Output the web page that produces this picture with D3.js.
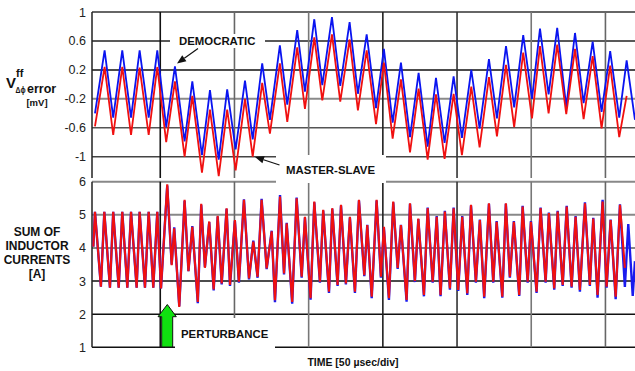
<!DOCTYPE html>
<html>
<head>
<meta charset="utf-8">
<script src="https://cdn.jsdelivr.net/npm/d3@7"></script>
<style>
  body { margin: 0; background: #fff; }
  svg { display: block; font-family: "Liberation Sans", Arial, sans-serif; }
</style>
</head>
<body>
<svg id="chart" width="635" height="371"></svg>
<script>
// tick values
const errorTicks = [1, 0.6, 0.2, -0.2, -0.6, -1];
const currentTicks = [6, 5, 4, 3, 2, 1];
const divisionTimes = [0, 50, 100, 150, 200, 250, 300]; // usec, 50 usec/div

// top panel: V error [mV], vertices of the triangle waves (time in usec)
const errorTimes = [-44.0, -37.5, -31.7, -25.6, -19.7, -13.9, -7.8, -2.0, 4.0, 9.9,
  16.4, 21.6, 28.1, 33.5, 39.4, 45.1, 50.8, 57.1, 62.3, 68.7,
  73.9, 80.6, 85.6, 92.3, 97.5, 103.8, 109.2, 115.7, 121.3, 127.6,
  133.2, 139.1, 145.4, 150.7, 156.6, 162.2, 168.3, 174.1, 180.2, 185.8,
  191.6, 197.7, 203.3, 209.6, 215.2, 221.5, 226.9, 233.0, 238.5, 244.6,
  250.5, 255.9, 261.7, 267.5, 273.6, 279.5, 285.3, 291.4, 297.4, 303.2,
  309.3, 314.3, 319.9];
const errorDemocratic = [-0.40, 0.47, -0.46, 0.47, -0.46, 0.47, -0.46, 0.47, -0.59, 0.25,
  -0.79, 0.04, -0.98, -0.08, -1.04, -0.07, -0.90, 0.05, -0.76, 0.29,
  -0.49, 0.54, -0.28, 0.75, -0.10, 0.90, -0.01, 0.93, -0.02, 0.86,
  -0.13, 0.69, -0.33, 0.49, -0.53, 0.30, -0.73, 0.16, -0.86, 0.09,
  -0.81, 0.11, -0.74, 0.20, -0.61, 0.35, -0.47, 0.53, -0.32, 0.68,
  -0.20, 0.77, -0.14, 0.78, -0.31, 0.71, -0.26, 0.59, -0.38, 0.46,
  -0.46, 0.33, -0.49];
const errorMasterSlave = [-0.58, 0.24, -0.70, 0.24, -0.70, 0.23, -0.70, 0.24, -0.80, 0.04,
  -1.00, -0.16, -1.22, -0.35, -1.27, -0.35, -1.19, -0.20, -1.00, 0.02,
  -0.68, 0.29, -0.52, 0.51, -0.34, 0.65, -0.22, 0.69, -0.24, 0.62,
  -0.36, 0.47, -0.55, 0.30, -0.75, 0.07, -0.94, -0.06, -1.04, -0.14,
  -1.03, -0.13, -0.98, -0.03, -0.87, 0.10, -0.72, 0.27, -0.59, 0.44,
  -0.47, 0.53, -0.40, 0.55, -0.41, 0.49, -0.48, 0.39, -0.61, 0.26,
  -0.73, -0.16];

// bottom panel: sum of inductor currents [A]
const currentTimes = [-45.1, -44.0, -40.0, -37.7, -33.9, -31.7, -28.0, -25.6, -22.2, -19.7,
  -15.9, -13.9, -10.3, -7.8, -4.7, -2.0, 0.5,
  4.7, 7.7, 9.4, 12.8, 16.4, 19.0, 21.6, 25.3, 27.6, 30.1,
  33.0, 36.0, 38.7, 41.4, 44.7, 47.0, 50.3, 53.0, 56.4, 59.8,
  62.7, 65.6, 68.3, 71.7, 75.1, 77.3, 80.7, 83.4, 85.2, 88.9,
  91.9, 95.3, 97.5, 101.3, 103.8, 107.6, 109.8, 113.7, 115.9, 119.5,
  121.8, 125.1, 127.8, 131.2, 133.9, 137.5, 139.5, 142.5, 145.8, 148.7,
  150.7, 154.1, 157.0, 160.0, 162.2, 166.0, 168.3, 171.6, 173.9, 177.7,
  180.2, 183.6, 186.3, 188.9, 191.8, 195.2, 197.7, 200.8, 203.5, 206.9,
  209.4, 212.7, 215.4, 218.3, 221.5, 224.4, 226.7, 230.5, 232.9, 235.6,
  238.3, 241.9, 244.2, 247.6, 249.8, 253.6, 256.3, 259.7, 261.9, 265.5,
  267.8, 271.2, 273.9, 277.2, 279.9, 282.8, 286.2, 289.5, 291.8, 294.7,
  298.1, 300.8, 303.5, 306.9, 309.8, 313.1, 315.4, 318.4, 319.9];
const currentDemocratic = [4.04, 5.09, 2.83, 5.09, 2.80, 5.09, 2.80, 5.09, 2.80, 5.09,
  2.80, 5.09, 2.80, 5.09, 2.80, 5.09, 2.78,
  5.88, 3.50, 4.62, 2.24, 5.42, 3.30, 4.66, 2.33, 5.30, 3.42,
  4.78, 2.72, 4.95, 2.90, 5.18, 2.85, 4.82, 2.95, 5.47, 3.05,
  4.22, 3.10, 5.48, 3.36, 4.52, 2.36, 5.60, 3.20, 4.76, 2.32,
  5.52, 3.10, 4.92, 2.44, 5.38, 2.95, 5.13, 2.64, 5.18, 2.85,
  5.28, 2.90, 4.92, 2.64, 5.43, 3.15, 4.70, 2.48, 5.43, 3.10,
  4.62, 2.43, 5.38, 3.37, 4.70, 2.38, 5.33, 2.97, 4.87, 2.54,
  5.22, 2.95, 4.96, 2.54, 5.12, 2.74, 5.22, 2.70, 4.96, 2.58,
  5.28, 2.95, 4.86, 2.48, 5.33, 2.95, 4.81, 2.50, 5.33, 3.10,
  4.81, 2.55, 5.27, 2.95, 4.81, 2.64, 5.22, 2.95, 5.07, 2.74,
  5.12, 2.85, 5.27, 2.80, 4.96, 2.68, 5.38, 2.85, 4.91, 2.50,
  5.45, 2.80, 4.86, 2.45, 5.32, 2.82, 4.72, 2.55, 3.60];
const currentMasterSlave = [4.04, 5.09, 2.83, 5.09, 2.80, 5.09, 2.80, 5.09, 2.80, 5.09,
  2.80, 5.09, 2.80, 5.09, 2.80, 5.09, 2.78,
  5.92, 3.48, 4.59, 2.22, 5.45, 3.30, 4.64, 2.37, 5.33, 3.40,
  4.80, 2.75, 4.97, 2.93, 5.20, 2.88, 4.84, 2.98, 5.45, 3.08,
  4.19, 3.13, 5.45, 3.38, 4.50, 2.42, 5.55, 3.23, 4.74, 2.37,
  5.50, 3.13, 4.94, 2.48, 5.40, 2.98, 5.15, 2.68, 5.20, 2.88,
  5.30, 2.93, 4.94, 2.68, 5.45, 3.18, 4.69, 2.53, 5.45, 3.13,
  4.64, 2.48, 5.40, 3.40, 4.69, 2.43, 5.35, 3.00, 4.89, 2.58,
  5.20, 2.98, 4.94, 2.58, 5.10, 2.78, 5.20, 2.73, 4.94, 2.63,
  5.30, 2.98, 4.84, 2.53, 5.35, 2.98, 4.79, 2.53, 5.35, 3.13,
  4.79, 2.58, 5.25, 2.98, 4.79, 2.68, 5.20, 2.98, 5.05, 2.78,
  5.10, 2.88, 5.25, 2.83, 4.94, 2.73, 5.35, 2.88, 4.89, 2.58,
  5.40, 2.83, 4.84, 2.53, 5.30, 3.40];

const svg = d3.select('#chart');
const left = 92, right = 636;

const x = d3.scaleLinear().domain([-46, 320.6]).range([left, right]);
const yTop = d3.scaleLinear().domain([-1, 1]).range([156.7, 12]);
const yBot = d3.scaleLinear().domain([1, 6]).range([347.3, 181.7]);
const topBottom = 178;

// gridline colours
const topGridColor = ['#333', '#222', '#111', '#8a8a8a', '#555', '#444'];
const botGridColor = ['#888', '#888', '#888', '#111', '#111', '#111'];
const vGridColor = ['#111', '#666', '#777', '#222', '#333', '#777', '#666'];

const grid = svg.append('g');
grid.selectAll('.ht')
  .data(errorTicks)
  .join('line')
  .attr('x1', left).attr('x2', right)
  .attr('y1', d => yTop(d)).attr('y2', d => yTop(d))
  .attr('stroke', (d, i) => topGridColor[i])
  .attr('stroke-width', (d, i) => (i === 3 ? 2 : 1.5));
grid.selectAll('.hb')
  .data(currentTicks)
  .join('line')
  .attr('x1', left).attr('x2', right)
  .attr('y1', d => yBot(d)).attr('y2', d => yBot(d))
  .attr('stroke', (d, i) => botGridColor[i])
  .attr('stroke-width', (d, i) => (i < 3 ? 2 : 1.5));
grid.selectAll('.vt')
  .data(divisionTimes)
  .join('line')
  .attr('x1', d => x(d)).attr('x2', d => x(d))
  .attr('y1', yTop(1)).attr('y2', topBottom)
  .attr('stroke', (d, i) => vGridColor[i])
  .attr('stroke-width', 1.6);
grid.selectAll('.vb')
  .data(divisionTimes)
  .join('line')
  .attr('x1', d => x(d)).attr('x2', d => x(d))
  .attr('y1', yBot(6)).attr('y2', yBot(1))
  .attr('stroke', (d, i) => vGridColor[i])
  .attr('stroke-width', 1.6);
// left frame
grid.append('line').attr('x1', left).attr('x2', left)
  .attr('y1', yTop(1)).attr('y2', topBottom).attr('stroke', '#222').attr('stroke-width', 1.5);
grid.append('line').attr('x1', left).attr('x2', left)
  .attr('y1', yBot(6)).attr('y2', yBot(1)).attr('stroke', '#222').attr('stroke-width', 1.5);

// white boxes behind the annotations break the grid
const boxes = [
  { x: 170, y: 34, w: 95, h: 14 },
  { x: 276, y: 155, w: 110, h: 28 },
  { x: 175, y: 318, w: 100, h: 36 },
];
svg.append('g').selectAll('rect')
  .data(boxes)
  .join('rect')
  .attr('x', d => d.x).attr('y', d => d.y)
  .attr('width', d => d.w).attr('height', d => d.h)
  .attr('fill', '#fff');

// clips
const defs = svg.append('defs');
defs.append('clipPath').attr('id', 'clipTop').append('rect')
  .attr('x', left).attr('y', 10).attr('width', right - left).attr('height', topBottom - 10);
defs.append('clipPath').attr('id', 'clipBot').append('rect')
  .attr('x', left).attr('y', yBot(6)).attr('width', right - left).attr('height', yBot(1) - yBot(6));

const lineTop = d3.line().x(d => x(d[0])).y(d => yTop(d[1]));
const lineBot = d3.line().x(d => x(d[0])).y(d => yBot(d[1]));

const gTop = svg.append('g').attr('clip-path', 'url(#clipTop)');
gTop.append('path')
  .attr('d', lineTop(d3.zip(errorTimes, errorDemocratic)))
  .attr('fill', 'none').attr('stroke', '#0a14f0').attr('stroke-width', 1.8)
  .attr('stroke-linejoin', 'miter');
gTop.append('path')
  .attr('d', lineTop(d3.zip(errorTimes, errorMasterSlave)))
  .attr('fill', 'none').attr('stroke', '#f01010').attr('stroke-width', 1.8);

const gBot = svg.append('g').attr('clip-path', 'url(#clipBot)');
gBot.append('path')
  .attr('d', lineBot(d3.zip(currentTimes, currentDemocratic)))
  .attr('fill', 'none').attr('stroke', '#1a1aee').attr('stroke-width', 2.4);
gBot.append('path')
  .attr('d', lineBot(d3.zip(currentTimes, currentMasterSlave)))
  .attr('fill', 'none').attr('stroke', '#f01010').attr('stroke-width', 2.1);

// y tick labels
const axTop = svg.append('g').attr('transform', 'translate(' + left + ',0)')
  .call(d3.axisLeft(yTop).tickValues(errorTicks).tickSize(0).tickPadding(6).tickFormat(d => String(d)));
const axBot = svg.append('g').attr('transform', 'translate(' + left + ',0)')
  .call(d3.axisLeft(yBot).tickValues(currentTicks).tickSize(0).tickPadding(6).tickFormat(d => String(d)));
[axTop, axBot].forEach(ax => {
  ax.select('.domain').remove();
  ax.selectAll('text')
    .attr('font-family', '"Liberation Sans", Arial, sans-serif')
    .attr('font-size', 12.5)
    .attr('fill', '#222');
});

// y titles
const t1 = svg.append('g').attr('font-weight', 'bold').attr('fill', '#111');
t1.append('text').attr('x', 6).attr('y', 88).attr('font-size', 15).text('V');
t1.append('text').attr('x', 16).attr('y', 77).attr('font-size', 11).text('ff');
t1.append('text').attr('x', 15.5).attr('y', 93).attr('font-size', 8.5)
  .attr('textLength', 10).attr('lengthAdjust', 'spacingAndGlyphs').text('Δϕ');
t1.append('text').attr('x', 27).attr('y', 93).attr('font-size', 12.5).text('error');
t1.append('text').attr('x', 37).attr('y', 106).attr('font-size', 9.5)
  .attr('text-anchor', 'middle').text('[mV]');

const t2 = svg.append('g').attr('font-weight', 'bold').attr('fill', '#111')
  .attr('font-size', 12).attr('text-anchor', 'middle');
['SUM OF', 'INDUCTOR', 'CURRENTS', '[A]'].forEach((s, i) => {
  t2.append('text').attr('x', 37).attr('y', 236 + i * 14).text(s);
});

// x title
svg.append('text').attr('x', 353).attr('y', 366).attr('text-anchor', 'middle')
  .attr('font-size', 10.5).attr('font-weight', 'bold').attr('fill', '#111')
  .text('TIME [50 µsec/div]');

// annotations
const ann = svg.append('g').attr('font-weight', 'bold').attr('fill', '#111').attr('font-size', 11.4);
ann.append('text').attr('x', 179).attr('y', 45).text('DEMOCRATIC');
ann.append('text').attr('x', 286).attr('y', 174).text('MASTER-SLAVE');
ann.append('text').attr('x', 181).attr('y', 337.5).text('PERTURBANCE');

function arrow(x1, y1, x2, y2) {
  const a = Math.atan2(y2 - y1, x2 - x1);
  const len = 9, half = 3.6;
  const bx = x2 - len * Math.cos(a), by = y2 - len * Math.sin(a);
  svg.append('line').attr('x1', x1).attr('y1', y1).attr('x2', bx).attr('y2', by)
    .attr('stroke', '#111').attr('stroke-width', 1.2);
  svg.append('polygon')
    .attr('points', [
      [x2, y2],
      [bx + half * Math.sin(a), by - half * Math.cos(a)],
      [bx - half * Math.sin(a), by + half * Math.cos(a)],
    ].map(p => p.join(',')).join(' '))
    .attr('fill', '#111');
}
arrow(198, 48.5, 177, 63.5);
arrow(279.5, 165, 255, 157);

// green perturbance arrow
svg.append('polygon')
  .attr('points', '161.7,347 161.7,316.7 158,316.7 167.3,304.5 176.3,316.7 172.7,316.7 172.7,347')
  .attr('fill', '#10e010').attr('stroke', '#111').attr('stroke-width', 1);
</script>
</body>
</html>
